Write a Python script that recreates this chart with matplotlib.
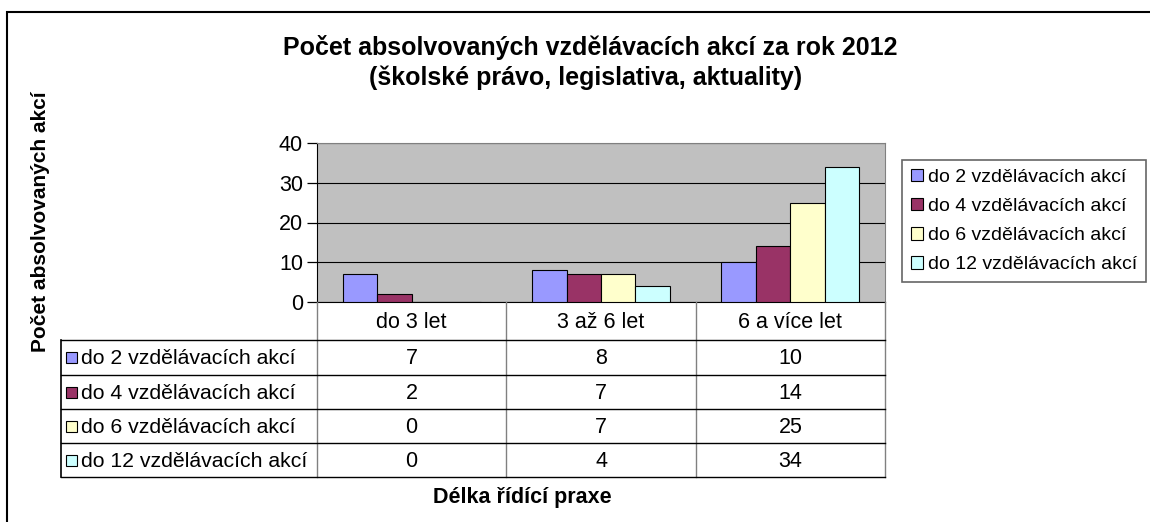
import matplotlib
matplotlib.use('Agg')
import matplotlib.pyplot as plt
from matplotlib.patches import Rectangle
import numpy as np

plt.rcParams['font.family'] = ['Liberation Sans', 'DejaVu Sans']

categories = ['do 3 let', '3 až 6 let', '6 a více let']
series = ['do 2 vzdělávacích akcí', 'do 4 vzdělávacích akcí',
          'do 6 vzdělávacích akcí', 'do 12 vzdělávacích akcí']
do2 = [7, 8, 10]
do4 = [2, 7, 14]
do6 = [0, 7, 25]
do12 = [0, 4, 34]
colors = ['#9999FF', '#993366', '#FFFFCC', '#CCFFFF']

W, H = 1150, 522
fig = plt.figure(figsize=(W / 100, H / 100), dpi=100)

def px(x0, y0, x1, y1):
    # pixel box -> figure fraction [left, bottom, width, height]
    return [x0 / W, 1 - y1 / H, (x1 - x0) / W, (y1 - y0) / H]

# outer chart border
fig.add_artist(Rectangle((7 / W, -0.1), 1.2, 1 - 12 / H + 0.1, transform=fig.transFigure,
                         fill=False, edgecolor='black', lw=1.5))

# bar area
ax = fig.add_axes(px(317, 143, 885, 302))
ax.set_facecolor('#C0C0C0')
x = np.arange(len(categories))
bw = 1 / 5.5
data = [do2, do4, do6, do12]
for i, vals in enumerate(data):
    ax.bar(x + (i - 1.5) * bw, vals, width=bw, color=colors[i],
           edgecolor='black', linewidth=0.8, zorder=3)
ax.set_xlim(-0.5, 2.5)
ax.set_ylim(0, 40)
ax.set_yticks([0, 10, 20, 30, 40])
ax.yaxis.grid(True, color='black', lw=0.8, zorder=1)
ax.set_xticks([])
ax.tick_params(axis='y', labelsize=15.5, length=7, width=0.9, pad=3)
for s in ['top', 'right']:
    ax.spines[s].set_color('#808080')
ax.spines['left'].set_color('black')
ax.spines['bottom'].set_color('black')

# data table underneath
tax = fig.add_axes(px(61, 302, 885, 477))
tax.set_xlim(-0.5 - (317 - 61) / (568 / 3), 2.5)
tax.set_ylim(477, 302)
tax.axis('off')
left = tax.get_xlim()[0]
rows = [302, 340, 375, 409, 443, 477]
for xv in [-0.5, 0.5, 1.5, 2.5]:
    tax.plot([xv, xv], [302, 477], color='#808080', lw=1, clip_on=False)
tax.plot([left, left], [340, 477], color='black', lw=1.2, clip_on=False)
for yv in rows[1:]:
    tax.plot([left, 2.5], [yv, yv], color='black', lw=1, clip_on=False)
for j, c in enumerate(categories):
    tax.text(j, (rows[0] + rows[1]) / 2 + 1, c, ha='center', va='center', fontsize=15.5)
for i, (name, vals) in enumerate(zip(series, data)):
    yc = (rows[i + 1] + rows[i + 2]) / 2
    tax.add_patch(Rectangle((left + 0.026, yc - 5.5), 0.058, 11, facecolor=colors[i],
                            edgecolor='black', lw=0.8, clip_on=False))
    tax.text(left + 0.106, yc + 1, name, ha='left', va='center', fontsize=15.3)
    for j, v in enumerate(vals):
        tax.text(j, yc + 1, str(v), ha='center', va='center', fontsize=15.5)

# legend
handles = [Rectangle((0, 0), 1, 1, facecolor=c, edgecolor='black', lw=0.8) for c in colors]
leg = fig.legend(handles, series, loc='upper left', bbox_to_anchor=(902 / W, 1 - 160 / H),
                 fontsize=14, frameon=True, fancybox=False, edgecolor='#404040',
                 handlelength=0.62, handleheight=0.62, handletextpad=0.3,
                 borderpad=0.44, labelspacing=0.62, borderaxespad=0)
leg.get_frame().set_linewidth(1.2)

# titles
fig.text(590 / W, 1 - 47 / H, 'Počet absolvovaných vzdělávacích akcí za rok 2012',
         ha='center', va='center', fontsize=18, fontweight='bold')
fig.text(586 / W, 1 - 78 / H, '(školské právo, legislativa, aktuality)',
         ha='center', va='center', fontsize=18, fontweight='bold')
fig.text(41 / W, 1 - 222 / H, 'Počet absolvovaných akcí', rotation=90,
         ha='center', va='center', fontsize=15, fontweight='bold')
fig.text(522 / W, 1 - 498 / H, 'Délka řídící praxe',
         ha='center', va='center', fontsize=15.5, fontweight='bold')

fig.savefig('out.png', dpi=100)
